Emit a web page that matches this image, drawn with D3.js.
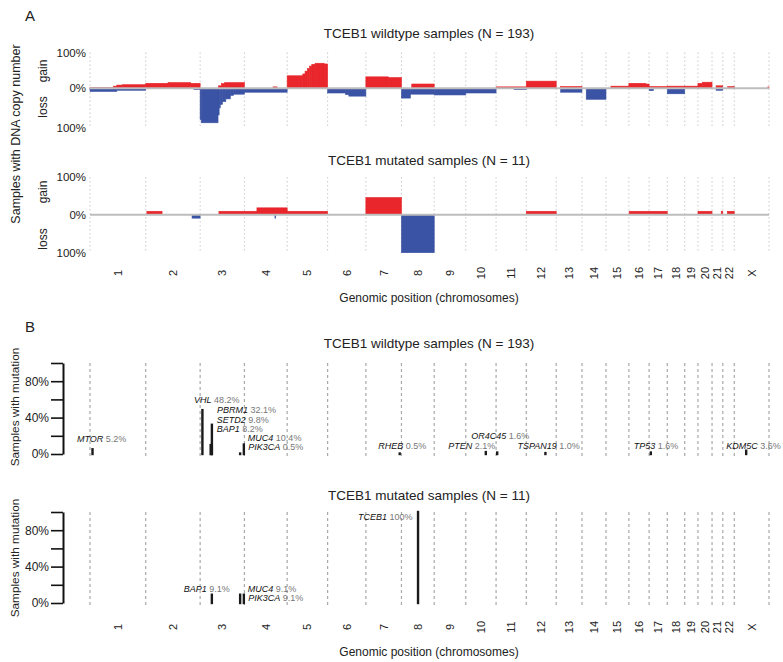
<!DOCTYPE html>
<html>
<head>
<meta charset="utf-8">
<script src="https://cdn.jsdelivr.net/npm/d3@7"></script>
<style>
  html, body { margin: 0; padding: 0; background: #fff; }
  svg { display: block; font-family: "Liberation Sans", Arial, Helvetica, sans-serif; }
</style>
</head>
<body>
<svg id="chart" width="783" height="662"></svg>
<script>
// ---------------- DATA ----------------
const chromNames = ["1","2","3","4","5","6","7","8","9","10","11","12","13","14","15","16","17","18","19","20","21","22","X"];
const chromLengths = [249.25,243.2,198.0,191.15,180.9,171.1,159.1,146.4,141.2,135.5,135.0,133.85,115.2,107.35,102.5,90.35,81.2,78.1,59.1,63.0,48.1,51.3,155.3];

const panelTitlesA = ["TCEB1 wildtype samples (N = 193)", "TCEB1 mutated samples (N = 11)"];
const panelTitlesB = ["TCEB1 wildtype samples (N = 193)", "TCEB1 mutated samples (N = 11)"];
const cnTickLabels = ["100%", "0%", "100%"];
const mutTickValues = [0, 20, 40, 60, 80, 100];
const mutTickLabels = ["0%", "", "40%", "", "80%", ""];

// copy-number segments: [chromosome, start Mb, end Mb, % of samples]
const wtGain = [
  ["1",0,105,2],["1",105,120,6],["1",120,145,9],["1",145,249.25,10],
  ["2",0,100,14],["2",100,200,16],["2",200,243.2,14],
  ["3",82,95,7],["3",95,110,13],["3",110,198,16],
  ["4",128,146,4],
  ["5",0,70,35],["5",70,80,40],["5",80,90,48],["5",90,100,55],["5",100,110,62],["5",110,125,67],["5",125,165,70],["5",165,180.9,68],
  ["7",0,100,32],["7",100,159.1,30],
  ["8",46,146.4,12],
  ["11",0,135,4],
  ["12",0,133.85,20],
  ["13",20,115.2,5],
  ["15",22,102.5,6],
  ["16",0,75,14],["16",75,90.35,12],
  ["17",0,81.2,5],
  ["18",0,78.1,6],
  ["19",0,59.1,6],
  ["20",0,20,14],["20",20,63,17],
  ["21",18,48.1,7],
  ["22",22,51.3,5],
  ["X",150,155.3,4]
];
const wtLoss = [
  ["1",0,120,8],["1",120,249.25,5],
  ["2",215,243.2,3],
  ["3",0,5,80],["3",5,80,88],["3",80,85,68],["3",85,90,50],["3",90,100,41],["3",100,115,34],["3",115,135,27],["3",135,150,18],["3",150,198,15],
  ["4",0,191.15,10],
  ["6",0,80,12],["6",80,95,16],["6",95,171.1,20],
  ["8",0,40,25],["8",40,146.4,15],
  ["9",0,141.2,17],
  ["10",0,135.5,12],
  ["11",80,135,3],
  ["13",20,115.2,10],
  ["14",19,107.35,28],
  ["17",0,20,6],
  ["18",0,78.1,14],
  ["21",18,48.1,5]
];
const mutGain = [
  ["2",5,73,9.1],
  ["3",84,198,9.1],
  ["4",0,56,9.1],["4",56,191.15,18.2],
  ["5",0,180.9,9.1],
  ["7",0,159.1,45.5],
  ["12",0,133.85,9.1],
  ["16",1,90.35,9.1],["17",0,81.2,9.1],
  ["20",0,63,9.1],
  ["21",41,48.1,9.1],["22",20,51.3,9.1]
];
const mutLoss = [
  ["2",207,243.2,9.1],
  ["4",136.5,140,9.1],
  ["8",0,146.4,100]
];

// mutated genes
const wtGenes  = ["MTOR","VHL","PBRM1","SETD2","BAP1","MUC4","PIK3CA","RHEB","PTEN","OR4C45","TSPAN19","TP53","KDM5C"];
const wtChrom  = ["1","3","3","3","3","3","3","7","10","11","12","17","X"];
const wtPos    = [11.2,10.2,52.6,47.1,52.4,195.5,178.9,151.2,89.6,5.0,85.6,7.6,53.2];
const wtPct    = [5.2,48.2,32.1,9.8,8.2,10.4,0.5,0.5,2.1,1.6,1.0,1.6,3.6];
const wtPctText = ["5.2%","48.2%","32.1%","9.8%","8.2%","10.4%","0.5%","0.5%","2.1%","1.6%","1.0%","1.6%","3.6%"];

const mtGenes  = ["TCEB1","BAP1","MUC4","PIK3CA"];
const mtChrom  = ["8","3","3","3"];
const mtPos    = [74.1,52.4,195.5,178.9];
const mtPct    = [100,9.1,9.1,9.1];
const mtPctText = ["100%","9.1%","9.1%","9.1%"];

// label placement (layout only): [dx from bar, dy from zero line] in px
const wtLabelLayout = [[-15.5,-15],[-8.5,-54],[5,-44],[6,-34],[5,-25],[4,-16],[8,-7],[-21.5,-8],[-37.5,-8],[-26,-18],[-28,-8],[-17,-8],[-20,-8]];
const mtLabelLayout = [[-60,-86],[-28,-14],[4,-14],[8,-5]];

// ---------------- DRAW ----------------
const svg = d3.select("#chart");
const FONT = '"Liberation Sans", Arial, Helvetica, sans-serif';
const RED = "#e8262b", BLUE = "#3a53a4", TXT = "#222";

const offsets = {};
let cum = 0;
const bounds = [0];
chromNames.forEach((c, i) => { offsets[c] = cum; cum += chromLengths[i]; bounds.push(cum); });
const total = cum;
const x = d3.scaleLinear().domain([0, total]).range([90, 769]);
const gx = (c, mb) => x(offsets[c] + mb);
const mids = chromNames.map((c, i) => ({ name: c, x: gx(c, chromLengths[i] / 2) }));

function txt(g, s, px, py, opts = {}) {
  const t = g.append("text").attr("x", px).attr("y", py)
    .attr("font-size", opts.size || 12).attr("fill", opts.fill || TXT)
    .attr("text-anchor", opts.anchor || "middle").attr("dominant-baseline", opts.baseline || "central")
    .text(s);
  if (opts.rotate) t.attr("transform", `rotate(-90,${px},${py})`);
  return t;
}

// Panel letters
txt(svg, "A", 30, 15, { size: 15 });
txt(svg, "B", 30, 326, { size: 15 });

// -------- Panel A --------
const panelsA = [
  { title: panelTitlesA[0], titleY: 33, zero: 88.3, top: 52.5, bottom: 127.5, gain: wtGain, loss: wtLoss, gainY: 71, lossY: 107 },
  { title: panelTitlesA[1], titleY: 160, zero: 214.7, top: 177, bottom: 252.7, gain: mutGain, loss: mutLoss, gainY: 192, lossY: 239 }
];
panelsA.forEach(p => {
  const g = svg.append("g");
  const yG = d3.scaleLinear().domain([0, 100]).range([p.zero, p.top]);
  const yL = d3.scaleLinear().domain([0, 100]).range([p.zero, p.bottom]);
  txt(g, p.title, 429, p.titleY, { size: 13.5 });
  // dotted chromosome boundaries
  g.selectAll("line.b").data(bounds).join("line")
    .attr("x1", d => x(d)).attr("x2", d => x(d))
    .attr("y1", p.top).attr("y2", p.bottom)
    .attr("stroke", "#c4c4c4").attr("stroke-width", 0.9).attr("stroke-dasharray", "1.5,2.5");
  g.selectAll("rect.gain").data(p.gain).join("rect")
    .attr("x", d => gx(d[0], d[1])).attr("width", d => gx(d[0], d[2]) - gx(d[0], d[1]))
    .attr("y", d => yG(d[3])).attr("height", d => p.zero - yG(d[3]))
    .attr("fill", RED).attr("stroke", RED).attr("stroke-width", 0.6);
  g.selectAll("rect.loss").data(p.loss).join("rect")
    .attr("x", d => gx(d[0], d[1])).attr("width", d => gx(d[0], d[2]) - gx(d[0], d[1]))
    .attr("y", p.zero).attr("height", d => yL(d[3]) - p.zero)
    .attr("fill", BLUE).attr("stroke", BLUE).attr("stroke-width", 0.6);
  g.append("line").attr("x1", x(0)).attr("x2", x(total)).attr("y1", p.zero).attr("y2", p.zero)
    .attr("stroke", "#bdbdbd").attr("stroke-width", 2);
  txt(g, cnTickLabels[0], 86, yG(100), { size: 11.5, anchor: "end" });
  txt(g, cnTickLabels[1], 86, p.zero, { size: 11.5, anchor: "end" });
  txt(g, cnTickLabels[2], 86, yL(100), { size: 11.5, anchor: "end" });
  txt(g, "gain", 43, p.gainY, { size: 12, rotate: true });
  txt(g, "loss", 43, p.lossY, { size: 12, rotate: true });
});
txt(svg, "Samples with DNA copy number", 16, 134, { size: 12.5, rotate: true });
mids.forEach(m => txt(svg, m.name, m.x, 273, { size: 11, rotate: true }));
txt(svg, "Genomic position (chromosomes)", 429, 297.5, { size: 12 });

// -------- Panel B --------
const panelsB = [
  { title: panelTitlesB[0], titleY: 343, zero: 454, top: 363, genes: wtGenes, chrom: wtChrom, pos: wtPos, pct: wtPct, pctText: wtPctText, layout: wtLabelLayout, ylabY: 407 },
  { title: panelTitlesB[1], titleY: 495, zero: 603, top: 512, genes: mtGenes, chrom: mtChrom, pos: mtPos, pct: mtPct, pctText: mtPctText, layout: mtLabelLayout, ylabY: 558 }
];
panelsB.forEach(p => {
  const g = svg.append("g");
  const y = d3.scaleLinear().domain([0, 100]).range([p.zero, p.top]);
  txt(g, p.title, 429, p.titleY, { size: 13.5 });
  g.selectAll("line.b").data(bounds).join("line")
    .attr("x1", d => x(d)).attr("x2", d => x(d))
    .attr("y1", p.top).attr("y2", p.zero + 3)
    .attr("stroke", "#a8a8a8").attr("stroke-width", 1.2).attr("stroke-dasharray", "3,3");
  const axis = d3.axisLeft(y).tickValues(mutTickValues)
    .tickFormat((d, i) => mutTickLabels[i]).tickSizeInner(12).tickSizeOuter(0).tickPadding(2);
  const ag = g.append("g").attr("transform", "translate(63,0)").call(axis);
  ag.select(".domain").attr("stroke", "#111").attr("stroke-width", 2);
  ag.selectAll(".tick line").attr("stroke", "#111").attr("stroke-width", 1.6);
  ag.selectAll(".tick text").attr("font-size", 12).attr("font-family", FONT).attr("fill", TXT);
  txt(g, "Samples with mutation", 15, p.ylabY, { size: 11.8, rotate: true });

  const data = p.genes.map((gname, i) => ({ gene: gname, bx: gx(p.chrom[i], p.pos[i]), pct: p.pct[i], pt: p.pctText[i], lay: p.layout[i] }));
  g.selectAll("line.bar").data(data).join("line")
    .attr("x1", d => d.bx).attr("x2", d => d.bx)
    .attr("y1", y(0)).attr("y2", d => y(d.pct))
    .attr("stroke", "#1a1a1a").attr("stroke-width", 2.4).attr("stroke-linecap", "square");
  const lt = g.selectAll("text.lab").data(data).join("text")
    .attr("x", d => d.bx + d.lay[0]).attr("y", d => p.zero + d.lay[1])
    .attr("font-size", 9).attr("dominant-baseline", "central").attr("text-anchor", "start");
  lt.append("tspan").attr("font-style", "italic").attr("fill", "#111").text(d => d.gene);
  lt.append("tspan").attr("fill", "#777").text(d => " " + d.pt);
});
mids.forEach(m => txt(svg, m.name, m.x, 627, { size: 11, rotate: true }));
txt(svg, "Genomic position (chromosomes)", 429, 652, { size: 12 });
</script>
</body>
</html>
